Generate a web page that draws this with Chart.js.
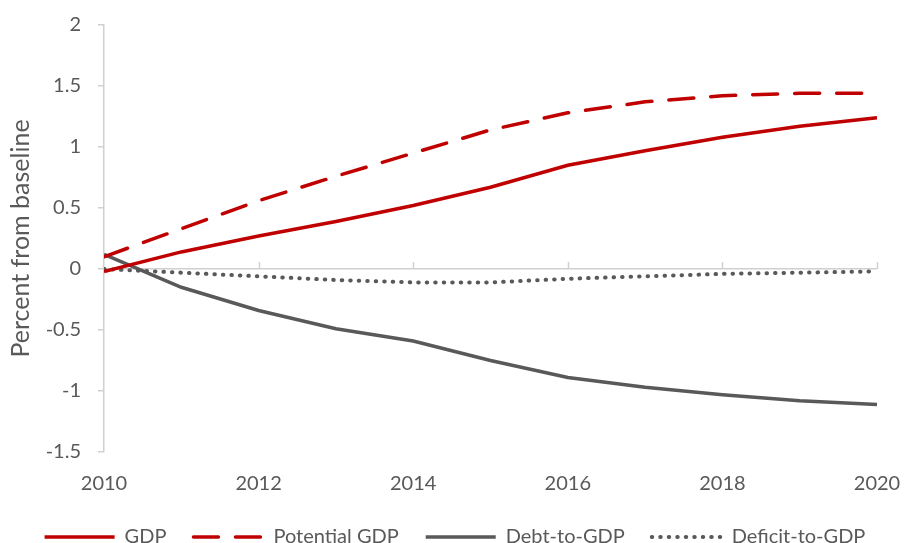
<!DOCTYPE html>
<html>
<head>
<meta charset="utf-8">
<title>Percent from baseline</title>
<script src="https://cdn.jsdelivr.net/npm/chart.js@4.4.1/dist/chart.umd.min.js"></script>
<style>
  html, body { margin: 0; padding: 0; background: #fff; }
  #wrap { width: 904px; height: 543px; }
</style>
</head>
<body>
<div id="wrap"><canvas id="chart"></canvas></div>
<script>
// values, one point per year
const years = [2010, 2011, 2012, 2013, 2014, 2015, 2016, 2017, 2018, 2019, 2020];
const gdp = [-0.02, 0.14, 0.27, 0.39, 0.52, 0.67, 0.85, 0.97, 1.08, 1.17, 1.24];
const potentialGdp = [0.10, 0.33, 0.56, 0.76, 0.95, 1.14, 1.28, 1.37, 1.42, 1.44, 1.44];
const debtToGdp = [0.12, -0.15, -0.34, -0.49, -0.59, -0.75, -0.89, -0.97, -1.03, -1.08, -1.11];
const deficitToGdp = [0.00, -0.03, -0.06, -0.09, -0.11, -0.11, -0.08, -0.06, -0.04, -0.03, -0.02];

const xTicks = [2010, 2012, 2014, 2016, 2018, 2020];
const yTicks = [-1.5, -1, -0.5, 0, 0.5, 1, 1.5, 2];

const RED = '#C00000';
const GREY = '#595959';
const AXIS = '#D0D0D0';
const TEXT = '#595959';
const FONT = 'Lato, "Open Sans", sans-serif';

function points(values) {
  return years.map((y, i) => ({ x: y, y: values[i] }));
}

// small tick marks standing up from the zero line, like the Excel axis
const zeroAxisTicks = {
  id: 'zeroAxisTicks',
  beforeDatasetsDraw(chart) {
    const { ctx, scales: { x, y } } = chart;
    const y0 = y.getPixelForValue(0);
    ctx.save();
    ctx.strokeStyle = AXIS;
    ctx.lineWidth = 1.5;
    xTicks.slice(1).forEach(v => {
      const px = Math.round(x.getPixelForValue(v)) + 0.5;
      ctx.beginPath();
      ctx.moveTo(px, y0);
      ctx.lineTo(px, y0 - 7);
      ctx.stroke();
    });
    ctx.restore();
  }
};

new Chart(document.getElementById('chart'), {
  type: 'line',
  data: {
    datasets: [
      {
        label: 'GDP',
        data: points(gdp),
        borderColor: RED,
        backgroundColor: RED,
        borderWidth: 3.5,
      },
      {
        label: 'Potential GDP',
        data: points(potentialGdp),
        borderColor: RED,
        backgroundColor: RED,
        borderWidth: 3.5,
        borderDash: [25, 17],
        borderCapStyle: 'round',
      },
      {
        label: 'Debt-to-GDP',
        data: points(debtToGdp),
        borderColor: GREY,
        backgroundColor: GREY,
        borderWidth: 3.5,
      },
      {
        label: 'Deficit-to-GDP',
        data: points(deficitToGdp),
        borderColor: GREY,
        backgroundColor: GREY,
        borderWidth: 4,
        borderDash: [0.5, 8],
        borderCapStyle: 'round',
      },
    ],
  },
  options: {
    responsive: true,
    maintainAspectRatio: false,
    animation: false,
    elements: {
      point: { radius: 0, hoverRadius: 0 },
      line: { tension: 0, fill: false },
    },
    layout: {
      padding: { top: 25, right: 0, left: 6, bottom: -14 },
    },
    scales: {
      x: {
        type: 'linear',
        min: 2010,
        max: 2020,
        afterBuildTicks: scale => {
          scale.ticks = xTicks.map(v => ({ value: v }));
        },
        afterFit: scale => {
          scale.height = 48;
          scale.paddingLeft = 0;
          scale.paddingRight = 27;
        },
        ticks: {
          color: TEXT,
          font: { family: FONT, size: 20 },
          padding: 20,
          maxRotation: 0,
          callback: v => String(v),
        },
        grid: { display: false, drawTicks: false },
        border: { display: false },
      },
      y: {
        min: -1.5,
        max: 2,
        afterBuildTicks: scale => {
          scale.ticks = yTicks.map(v => ({ value: v }));
        },
        afterFit: scale => {
          scale.width = 98;
          scale.paddingTop = 0;
          scale.paddingBottom = 0;
        },
        ticks: {
          color: TEXT,
          font: { family: FONT, size: 20 },
          padding: 17,
          callback: v => String(v),
        },
        grid: {
          color: ctx => (ctx.tick && ctx.tick.value === 0 ? AXIS : 'rgba(0,0,0,0)'),
          lineWidth: 1.5,
          drawTicks: true,
          tickLength: 6,
          tickColor: AXIS,
        },
        border: { display: true, color: AXIS, width: 1.5 },
        title: {
          display: true,
          text: 'Percent from baseline',
          color: TEXT,
          font: { family: FONT, size: 25 },
          padding: { top: 0, bottom: 0 },
        },
      },
    },
    plugins: {
      legend: {
        position: 'bottom',
        labels: {
          color: TEXT,
          font: { family: FONT, size: 20 },
          usePointStyle: true,
          pointStyle: 'line',
          pointStyleWidth: 70,
          boxHeight: 20,
          padding: 27,
          // point-style legend items ignore the dataset dash, so copy it over
          generateLabels: chart =>
            Chart.defaults.plugins.legend.labels.generateLabels(chart).map(item => {
              const ds = chart.data.datasets[item.datasetIndex];
              return Object.assign(item, {
                lineDash: ds.borderDash || [],
                lineWidth: ds.borderWidth,
                lineCap: ds.borderCapStyle || 'butt',
                strokeStyle: ds.borderColor,
                fillStyle: ds.borderColor,
              });
            }),
        },
      },
      tooltip: { enabled: false },
    },
  },
  plugins: [zeroAxisTicks],
});
</script>
</body>
</html>
